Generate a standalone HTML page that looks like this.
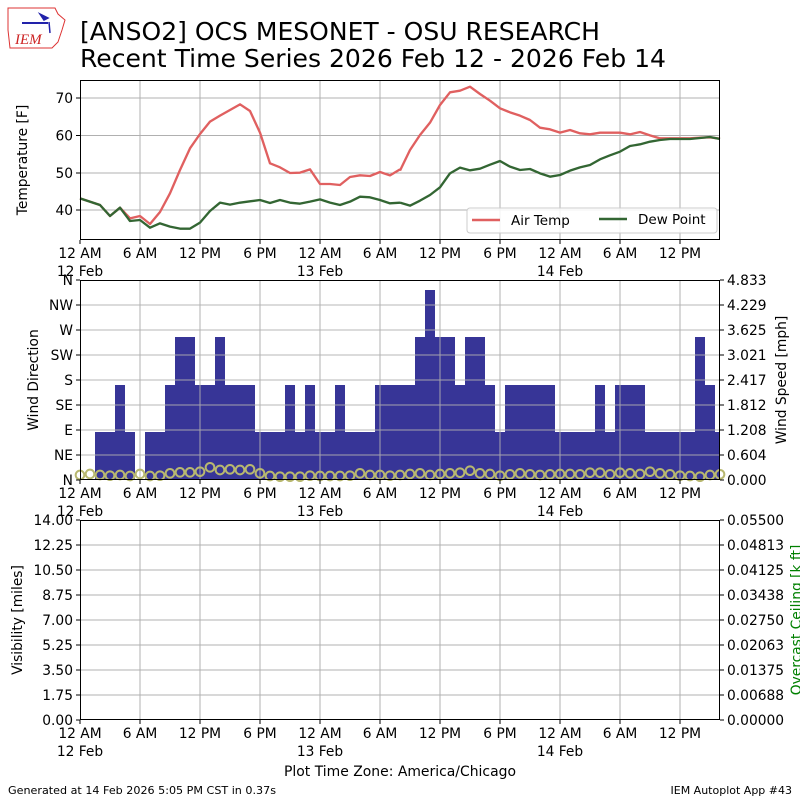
<!DOCTYPE html>
<html><head><meta charset="utf-8"><style>
body{margin:0;background:#fff;}
svg{display:block;font-family:"DejaVu Sans","Liberation Sans",sans-serif;}
</style></head><body>
<svg width="800" height="800" viewBox="0 0 800 800" xmlns="http://www.w3.org/2000/svg">
<rect width="800" height="800" fill="#fff"/>
<!-- logo -->
<path d="M8 8 L55 8 L58 14 L65 20 L62 30 L58 42 L52 48 L10 48 L8 30 Z" fill="none" stroke="#d33" stroke-width="1"/>
<line x1="22" y1="23" x2="48" y2="23" stroke="#22a" stroke-width="2"/>
<path d="M40 14 L48 18 L44 20 Z M49 22 L50 33" fill="#22a" stroke="#22a" stroke-width="1.5"/>
<text x="15" y="44" font-family="Liberation Serif,serif" font-style="italic" font-size="15" fill="#c22">IEM</text>
<text x="80" y="40" font-size="25" textLength="520" lengthAdjust="spacingAndGlyphs">[ANSO2] OCS MESONET - OSU RESEARCH</text>
<text x="80" y="67" font-size="25" textLength="586" lengthAdjust="spacingAndGlyphs">Recent Time Series 2026 Feb 12 - 2026 Feb 14</text>

<!-- grids -->
<g stroke="#b0b0b0" stroke-width="1">
<path d="M140 80V240M200 80V240M260 80V240M320 80V240M380 80V240M440 80V240M500 80V240M560 80V240M620 80V240M680 80V240"/>
<path d="M80 98H720M80 135.5H720M80 173H720M80 210H720"/>
<path d="M140 280V480M200 280V480M260 280V480M320 280V480M380 280V480M440 280V480M500 280V480M560 280V480M620 280V480M680 280V480"/>
<path d="M140 520V720M200 520V720M260 520V720M320 520V720M380 520V720M440 520V720M500 520V720M560 520V720M620 520V720M680 520V720"/>
<path d="M80 545H720M80 570H720M80 595H720M80 620H720M80 645H720M80 670H720M80 695H720"/>
</g>

<!-- panel 1 lines -->
<g transform="translate(80,80) scale(0.333333)" fill="none" stroke-width="7" stroke-linejoin="round">
<polyline stroke="#e06060" points="0,355 60,375 90,408 120,383 150,415 180,408 210,432 240,396 270,340 300,270 330,205 360,162 390,125 420,107 450,90 480,73 510,93 540,158 570,250 600,262 630,279 660,278 690,268 720,312 750,312 780,315 810,291 840,286 870,288 900,276 930,286 960,268"/>
<polyline stroke="#336633" points="0,355 60,375 90,408 120,383 150,423 180,420 210,443 240,430 270,440 300,446 330,446 360,428 390,393 420,368 450,374 480,368 510,364 540,360 570,369 600,360 630,368 660,371 690,365 720,358 750,368 780,375 810,365 840,350 870,352 900,360 930,370 960,368"/>
</g>
<g transform="translate(400,80) scale(0.333333)" fill="none" stroke-width="7" stroke-linejoin="round">
<polyline stroke="#e06060" points="0,272 30,210 60,165 90,128 120,75 150,37 180,32 210,20 240,42 270,62 300,85 330,97 360,107 390,120 420,143 450,148 480,158 510,150 540,160 570,163 600,158 630,158 660,158 690,163 720,156 750,166 780,175 810,175 840,175 870,175 900,173 930,172 960,176"/>
<polyline stroke="#336633" points="0,368 30,377 60,362 90,345 120,322 150,280 180,263 210,271 240,266 270,254 300,243 330,260 360,270 390,267 420,280 450,290 480,285 510,272 540,262 570,255 600,238 630,226 660,215 690,198 720,193 750,185 780,180 810,177 840,177 870,177 900,174 930,171 960,177"/>
</g>
<!-- legend -->
<rect x="467" y="208" width="250" height="25" rx="3" fill="#fff" fill-opacity="0.85" stroke="#ccc"/>
<line x1="472" y1="220" x2="500" y2="220" stroke="#e06060" stroke-width="2.5"/>
<text x="511" y="225" font-size="13.5">Air Temp</text>
<line x1="599" y1="219" x2="627" y2="219" stroke="#336633" stroke-width="2.5"/>
<text x="638" y="224" font-size="13.5">Dew Point</text>

<!-- panel 2 bars -->
<g fill="#373597">
<rect x="95" y="432" width="40" height="48"/><rect x="115" y="385" width="10" height="47"/>
<rect x="145" y="432" width="20" height="48"/>
<rect x="165" y="385" width="10" height="95"/>
<rect x="175" y="337" width="20" height="143"/>
<rect x="195" y="385" width="20" height="95"/>
<rect x="215" y="337" width="10" height="143"/>
<rect x="225" y="385" width="30" height="95"/>
<rect x="255" y="432" width="30" height="48"/>
<rect x="285" y="385" width="10" height="95"/>
<rect x="295" y="432" width="10" height="48"/>
<rect x="305" y="385" width="10" height="95"/>
<rect x="315" y="432" width="20" height="48"/>
<rect x="335" y="385" width="10" height="95"/>
<rect x="345" y="432" width="30" height="48"/>
<rect x="375" y="385" width="40" height="95"/>
<rect x="415" y="337" width="10" height="143"/>
<rect x="425" y="290" width="10" height="190"/>
<rect x="435" y="337" width="20" height="143"/>
<rect x="455" y="385" width="10" height="95"/>
<rect x="465" y="337" width="20" height="143"/>
<rect x="485" y="385" width="10" height="95"/>
<rect x="495" y="432" width="10" height="48"/>
<rect x="505" y="385" width="50" height="95"/>
<rect x="555" y="432" width="40" height="48"/>
<rect x="595" y="385" width="10" height="95"/>
<rect x="605" y="432" width="10" height="48"/>
<rect x="615" y="385" width="30" height="95"/>
<rect x="645" y="432" width="50" height="48"/>
<rect x="695" y="337" width="10" height="143"/>
<rect x="705" y="385" width="10" height="95"/>
<rect x="715" y="432" width="5" height="48"/>
</g>
<g stroke="#b0b0b0" stroke-width="1" opacity="0.9">
<path d="M80 305H720M80 330H720M80 355H720M80 380H720M80 405H720M80 430H720M80 455H720"/>
<path d="M140 280V480M200 280V480M260 280V480M320 280V480M380 280V480M440 280V480M500 280V480M560 280V480M620 280V480M680 280V480"/>
</g>
<g fill="none" stroke="#b8b870" stroke-width="6">
<g transform="translate(80,280) scale(0.333333)">
<circle cx="0" cy="585" r="13"/><circle cx="30" cy="582" r="13"/><circle cx="60" cy="585" r="13"/><circle cx="90" cy="587" r="13"/><circle cx="120" cy="585" r="13"/><circle cx="150" cy="588" r="13"/><circle cx="180" cy="582" r="13"/><circle cx="210" cy="588" r="13"/><circle cx="240" cy="587" r="13"/><circle cx="270" cy="580" r="13"/><circle cx="300" cy="577" r="13"/><circle cx="330" cy="577" r="13"/><circle cx="360" cy="575" r="13"/><circle cx="390" cy="562" r="13"/><circle cx="420" cy="570" r="13"/><circle cx="450" cy="568" r="13"/><circle cx="480" cy="570" r="13"/><circle cx="510" cy="568" r="13"/><circle cx="540" cy="580" r="13"/><circle cx="570" cy="588" r="13"/><circle cx="600" cy="590" r="13"/><circle cx="630" cy="590" r="13"/><circle cx="660" cy="590" r="13"/><circle cx="690" cy="587" r="13"/><circle cx="720" cy="588" r="13"/><circle cx="750" cy="588" r="13"/><circle cx="780" cy="588" r="13"/><circle cx="810" cy="587" r="13"/><circle cx="840" cy="580" r="13"/><circle cx="870" cy="585" r="13"/><circle cx="900" cy="585" r="13"/><circle cx="930" cy="587" r="13"/>
</g>
<g transform="translate(400,280) scale(0.333333)">
<circle cx="0" cy="585" r="13"/><circle cx="30" cy="582" r="13"/><circle cx="60" cy="580" r="13"/><circle cx="90" cy="585" r="13"/><circle cx="120" cy="582" r="13"/><circle cx="150" cy="580" r="13"/><circle cx="180" cy="578" r="13"/><circle cx="210" cy="572" r="13"/><circle cx="240" cy="580" r="13"/><circle cx="270" cy="582" r="13"/><circle cx="300" cy="587" r="13"/><circle cx="330" cy="583" r="13"/><circle cx="360" cy="580" r="13"/><circle cx="390" cy="583" r="13"/><circle cx="420" cy="585" r="13"/><circle cx="450" cy="583" r="13"/><circle cx="480" cy="582" r="13"/><circle cx="510" cy="582" r="13"/><circle cx="540" cy="583" r="13"/><circle cx="570" cy="578" r="13"/><circle cx="600" cy="578" r="13"/><circle cx="630" cy="583" r="13"/><circle cx="660" cy="578" r="13"/><circle cx="690" cy="580" r="13"/><circle cx="720" cy="582" r="13"/><circle cx="750" cy="575" r="13"/><circle cx="780" cy="580" r="13"/><circle cx="810" cy="583" r="13"/><circle cx="840" cy="587" r="13"/><circle cx="870" cy="588" r="13"/><circle cx="900" cy="590" r="13"/><circle cx="930" cy="585" r="13"/><circle cx="960" cy="583" r="13"/>
</g>
</g>

<!-- frames -->
<g fill="none" stroke="#000" stroke-width="1">
<rect x="80.5" y="80.5" width="639" height="159"/>
<rect x="80.5" y="280.5" width="639" height="199"/>
<rect x="80.5" y="520.5" width="639" height="199"/>
</g>
<!-- ticks -->
<g stroke="#000" stroke-width="1">
<path d="M80 240v4M140 240v4M200 240v4M260 240v4M320 240v4M380 240v4M440 240v4M500 240v4M560 240v4M620 240v4M680 240v4"/>
<path d="M80 480v4M140 480v4M200 480v4M260 480v4M320 480v4M380 480v4M440 480v4M500 480v4M560 480v4M620 480v4M680 480v4"/>
<path d="M80 720v4M140 720v4M200 720v4M260 720v4M320 720v4M380 720v4M440 720v4M500 720v4M560 720v4M620 720v4M680 720v4"/>
<path d="M76 98h4M76 135.5h4M76 173h4M76 210h4"/>
<path d="M76 280h4M76 305h4M76 330h4M76 355h4M76 380h4M76 405h4M76 430h4M76 455h4M76 480h4"/>
<path d="M720 280h4M720 305h4M720 330h4M720 355h4M720 380h4M720 405h4M720 430h4M720 455h4M720 480h4"/>
<path d="M76 520h4M76 545h4M76 570h4M76 595h4M76 620h4M76 645h4M76 670h4M76 695h4M76 720h4"/>
<path d="M720 520h4M720 545h4M720 570h4M720 595h4M720 620h4M720 645h4M720 670h4M720 695h4M720 720h4"/>
</g>
<g font-size="13.8">
<g text-anchor="end">
<text x="73" y="103">70</text><text x="73" y="140.5">60</text><text x="73" y="178">50</text><text x="73" y="215">40</text>
<text x="73" y="285">N</text><text x="73" y="310">NW</text><text x="73" y="335">W</text><text x="73" y="360">SW</text><text x="73" y="385">S</text><text x="73" y="410">SE</text><text x="73" y="435">E</text><text x="73" y="460">NE</text><text x="73" y="485">N</text>
<text x="73" y="525">14.00</text><text x="73" y="550">12.25</text><text x="73" y="575">10.50</text><text x="73" y="600">8.75</text><text x="73" y="625">7.00</text><text x="73" y="650">5.25</text><text x="73" y="675">3.50</text><text x="73" y="700">1.75</text><text x="73" y="725">0.00</text>
</g>
<g text-anchor="start">
<text x="727" y="285">4.833</text><text x="727" y="310">4.229</text><text x="727" y="335">3.625</text><text x="727" y="360">3.021</text><text x="727" y="385">2.417</text><text x="727" y="410">1.812</text><text x="727" y="435">1.208</text><text x="727" y="460">0.604</text><text x="727" y="485">0.000</text>
<text x="727" y="525">0.05500</text><text x="727" y="550">0.04813</text><text x="727" y="575">0.04125</text><text x="727" y="600">0.03438</text><text x="727" y="625">0.02750</text><text x="727" y="650">0.02063</text><text x="727" y="675">0.01375</text><text x="727" y="700">0.00688</text><text x="727" y="725">0.00000</text>
</g>
<g text-anchor="middle">
<text x="80" y="258">12 AM</text><text x="140" y="258">6 AM</text><text x="200" y="258">12 PM</text><text x="260" y="258">6 PM</text><text x="320" y="258">12 AM</text><text x="380" y="258">6 AM</text><text x="440" y="258">12 PM</text><text x="500" y="258">6 PM</text><text x="560" y="258">12 AM</text><text x="620" y="258">6 AM</text><text x="680" y="258">12 PM</text>
<text x="80" y="276">12 Feb</text><text x="320" y="276">13 Feb</text><text x="560" y="276">14 Feb</text>
<text x="80" y="498">12 AM</text><text x="140" y="498">6 AM</text><text x="200" y="498">12 PM</text><text x="260" y="498">6 PM</text><text x="320" y="498">12 AM</text><text x="380" y="498">6 AM</text><text x="440" y="498">12 PM</text><text x="500" y="498">6 PM</text><text x="560" y="498">12 AM</text><text x="620" y="498">6 AM</text><text x="680" y="498">12 PM</text>
<text x="80" y="516">12 Feb</text><text x="320" y="516">13 Feb</text><text x="560" y="516">14 Feb</text>
<text x="80" y="738">12 AM</text><text x="140" y="738">6 AM</text><text x="200" y="738">12 PM</text><text x="260" y="738">6 PM</text><text x="320" y="738">12 AM</text><text x="380" y="738">6 AM</text><text x="440" y="738">12 PM</text><text x="500" y="738">6 PM</text><text x="560" y="738">12 AM</text><text x="620" y="738">6 AM</text><text x="680" y="738">12 PM</text>
<text x="80" y="756">12 Feb</text><text x="320" y="756">13 Feb</text><text x="560" y="756">14 Feb</text>
<text x="400" y="776" textLength="232" lengthAdjust="spacingAndGlyphs">Plot Time Zone: America/Chicago</text>
</g>
<text transform="translate(27,160) rotate(-90)" text-anchor="middle">Temperature [F]</text>
<text transform="translate(38,380) rotate(-90)" text-anchor="middle">Wind Direction</text>
<text transform="translate(786,380) rotate(-90)" text-anchor="middle">Wind Speed [mph]</text>
<text transform="translate(22,620) rotate(-90)" text-anchor="middle">Visibility [miles]</text>
<text transform="translate(801,620) rotate(-90)" text-anchor="middle" fill="#008000">Overcast Ceiling [k ft]</text>
</g>
<text x="8" y="794" font-size="11" textLength="268" lengthAdjust="spacingAndGlyphs">Generated at 14 Feb 2026 5:05 PM CST in 0.37s</text>
<text x="792" y="794" font-size="11" text-anchor="end">IEM Autoplot App #43</text>
</svg>
</body></html>
